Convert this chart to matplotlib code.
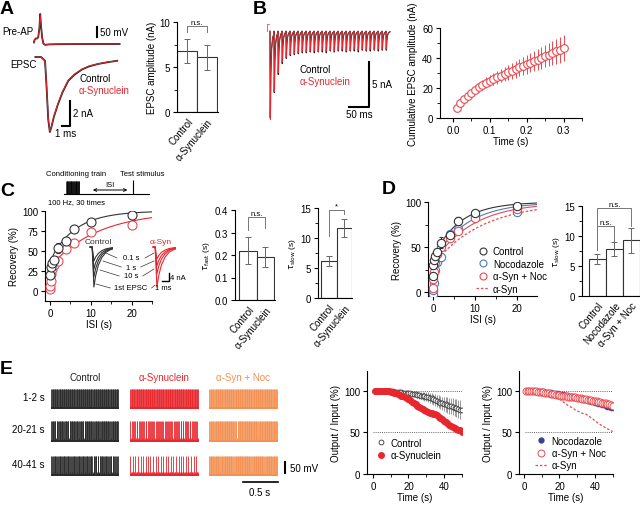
import numpy as np
import matplotlib
matplotlib.use('Agg')
import matplotlib.pyplot as plt
from matplotlib.lines import Line2D

plt.rcParams['font.family'] = ['Liberation Sans', 'DejaVu Sans']
plt.rcParams['font.size'] = 7
plt.rcParams['axes.linewidth'] = 0.8

RED = '#e8262d'
PINK = '#ea4a50'
ORANGE = '#f39154'
BLUE = '#4a7cc0'
NAVY = '#3b3f8f'
GREY = '#555555'

# ---------------- data ----------------
# A: single traces (ms, mV / nA) and amplitudes
ap_t = [0.1, 0.2, 0.35, 0.5, 0.65, 0.8, 0.9, 1.0, 1.15, 1.3, 1.5, 2.0, 3.0, 5.0, 8.0, 10.8]
ap_mv = [-62, -50, -42, -43, -36, 10, 80, 20, -40, -68, -74, -72, -71, -70.5, -70, -70]
epsc_t = [0.3, 1.0, 1.5, 1.7, 1.9, 2.1, 2.3, 2.6, 3.1, 3.7, 4.4, 5.2, 6.1, 7.0, 8.1, 9.3, 10.5]
epsc_ctrl = [0.0, 0.0, -0.3, -2.5, -5.0, -6.0, -5.6, -4.8, -3.8, -2.8, -1.9, -1.4, -1.0, -0.75, -0.56, -0.42, -0.3]
epsc_syn = [0.0, 0.0, -0.3, -2.4, -4.9, -5.95, -5.6, -4.75, -3.75, -2.75, -1.85, -1.35, -0.98, -0.72, -0.55, -0.4, -0.3]
groups2 = ['Control', 'α-Synuclein']
amp_mean = [6.8, 6.1]
amp_err = [1.3, 1.4]

# B: 100 Hz train, 30 EPSC amplitudes (nA)
train_ctrl = [9.6, 6.8, 4.8, 3.6, 3.0, 2.7, 2.6, 2.5, 2.4, 2.4, 2.3, 2.4, 2.3, 2.3, 2.4, 2.2, 2.3, 2.2, 2.2, 2.3,
              2.2, 2.2, 2.3, 2.1, 2.2, 2.2, 2.1, 2.2, 2.1, 2.1]
train_syn = [9.8, 6.7, 4.6, 3.4, 2.9, 2.6, 2.5, 2.4, 2.3, 2.3, 2.2, 2.2, 2.3, 2.1, 2.2, 2.1, 2.2, 2.1, 2.0, 2.2,
             2.1, 2.0, 2.1, 2.0, 2.1, 2.0, 2.1, 2.0, 2.0, 2.0]
epsc_kernel_t = [0, 0.8, 2, 4, 7, 9.9]
epsc_kernel_f = [0, -1, -0.5, -0.2, -0.07, -0.03]
cum_t = np.arange(1, 31) * 0.01
cum_syn = [6.5, 10, 12.5, 15, 17, 19, 20.5, 22, 23.5, 25, 26, 27.2, 28.3, 29.4, 30.5, 31.5, 32.6, 33.7, 34.8, 35.8,
           36.9, 38, 39, 40.1, 41.2, 42.2, 43.3, 44.4, 45.4, 46.5]
cum_ctrl = [6.3, 9.8, 12.3, 14.6, 16.6, 18.4, 20.0, 21.4, 22.8, 24.1, 25.3, 26.4, 27.5, 28.5, 29.5, 30.5, 31.5, 32.5,
            33.4, 34.4, 35.3, 36.2, 37.2, 38.1, 39.0, 40.0, 41.0, 42.0, 43.0, 44.5]
cum_err = [0.8, 1.2, 1.6, 2, 2.4, 2.7, 3, 3.3, 3.6, 3.9, 4.1, 4.4, 4.6, 4.9, 5.1, 5.4, 5.6, 5.8, 6.1, 6.3,
           6.5, 6.8, 7.0, 7.2, 7.5, 7.7, 7.9, 8.2, 8.4, 8.7]

# C: recovery from depression
isi_ctrl = [0.1, 0.3, 0.5, 1, 2, 4, 6, 10, 20]
rec_ctrl = [20, 30, 35, 39, 54, 62, 77, 86, 95]
rec_ctrl_err = [2, 2, 2, 2, 6, 2, 2, 2, 2]
isi_syn = [0.05, 0.1, 0.2, 0.3, 0.5, 1, 2, 4, 6, 10, 20]
rec_syn = [3, 6, 13, 21, 27, 32, 38, 53, 60, 74, 82]
# double-exponential fit parameters: A_fast, tau_fast, A_slow, tau_slow
fit_ctrl = [35, 0.22, 62, 6.2]
fit_syn = [25, 0.19, 70, 11.7]
fit_noc = [30, 0.25, 66, 7.8]
fit_synnoc = [28, 0.20, 68, 9.3]
inset_t = [0, 0.3, 0.55, 0.8, 1.2, 1.7, 2.3, 2.9, 3.4]
inset_f = [0, 0, -1.0, -0.72, -0.45, -0.26, -0.13, -0.07, -0.04]
inset_ctrl = [20, 15, 11, 7]     # 1st EPSC, 10 s, 1 s, 0.1 s (nA)
inset_syn = [20, 13.5, 9.5, 6]
taufast_mean = [0.22, 0.19]
taufast_err = [0.062, 0.045]
tauslow_mean = [6.2, 11.7]
tauslow_err = [0.8, 1.5]

# D
isi_d = [0.05, 0.1, 0.2, 0.5, 1, 2, 4, 6, 10, 20]
rec_d_ctrl = [18, 30, 36, 40, 45, 55, 63, 79, 88, 96]
rec_d_noc = [-2, 2, 10, 25, 33, 39, 64, 70, 84, 89]
rec_d_synnoc = [5, 15, 22, 33, 42, 50, 60, 68, 82, 92]
groups3 = ['Control', 'Nocodazole', 'α-Syn + Noc']
tau3_mean = [6.2, 7.8, 9.3]
tau3_err = [0.8, 1.2, 2.1]

# E: spike trains, '|' = spike, '.' = failure (100 stimuli per 1-s window)
trains = {
    ('Control', '1-2 s'): '|' * 100,
    ('Control', '20-21 s'): '|||||||.|||||||||||.||||||.||||||||||||||.||||||.||||||||||||||.||||||||.|||||||||||||||.|||||||||||',
    ('Control', '40-41 s'): '|||.|||||.|||||.||||||.||||.|||.||||||.|||||.|||||.||||.|||||.|||||.||.|||||||.|||||.||||.|||.|||.||',
    ('α-Synuclein', '1-2 s'): '|' * 100,
    ('α-Synuclein', '20-21 s'): '|.|.||.|.||.|.||.|.||.||.|.||.|.||.|.||.||.|.||.|.||.|.||.||.|.||.|.||.|.||.||.|.||.|.||.|.||.||.|.|',
    ('α-Synuclein', '40-41 s'): '|...|..|...|...|..|...|...|..|...|...|..|...|...|..|...|...|..|...|...|..|...|...|..|...|...|..|...|',
    ('α-Syn + Noc', '1-2 s'): '|' * 100,
    ('α-Syn + Noc', '20-21 s'): '|' * 40 + '.' + '|' * 29 + '.' + '|' * 29,
    ('α-Syn + Noc', '40-41 s'): '|' * 15 + '.' + '|' * 19 + '.' + '|' * 24 + '.' + '|' * 19 + '.' + '|' * 19,
}
e_cols = ['Control', 'α-Synuclein', 'α-Syn + Noc']
e_rows = ['1-2 s', '20-21 s', '40-41 s']
e_colors = ['#2a2a2a', RED, ORANGE]

time_e = np.arange(1, 51)
oi_ctrl = [100, 100, 100, 100, 100, 100, 100, 100, 100, 99.8, 99.5, 99.3, 99, 98.8, 98.5, 98.3, 98, 97.8, 97.5, 97.3,
           97, 96.5, 96.2, 95.8, 95.3, 95, 94.5, 94, 93.5, 93, 92.5, 92, 91, 90, 89, 88, 87, 86, 85, 84.5,
           84, 83, 82, 81.5, 81, 80, 79.5, 78.5, 77.5, 76.5]
oi_ctrl_err = [0, 0, 0, 0, 0, 0, 0, 0, 0.3, 0.5, 0.7, 0.9, 1.1, 1.3, 1.5, 1.7, 1.9, 2.1, 2.3, 2.5,
               2.8, 3.1, 3.4, 3.7, 4.0, 4.3, 4.6, 4.9, 5.2, 5.5, 5.8, 6.1, 6.4, 6.7, 7.0, 7.3, 7.6, 7.9, 8.2, 8.5,
               8.8, 9.1, 9.4, 9.7, 10, 10.3, 10.6, 11, 11.4, 11.8]
oi_syn = [100, 100, 100, 100, 100, 100, 100, 99.8, 99.5, 99, 98.5, 98, 97.5, 96.5, 95.5, 94.5, 93.5, 92.5, 91.5, 90,
          88.5, 87, 85.5, 84, 82, 81, 80, 78.5, 77, 76, 75, 74, 73, 72.5, 72, 70.5, 69, 67.5, 66, 64,
          62.5, 61, 59.5, 58, 57, 55.5, 54.5, 53.5, 52.5, 51]
oi_noc = [100, 100, 100, 100, 100, 100, 100, 100, 99.8, 99.6, 99.4, 99.2, 99, 98.7, 98.4, 98, 97.7, 97.3, 97, 96.6,
          96.2, 95.8, 95.4, 95, 94.5, 94, 93.5, 93, 92.5, 92, 91.4, 90.8, 90.2, 89.6, 89, 88.4, 87.8, 87.2, 86.6, 86,
          85.3, 84.6, 83.9, 83.2, 82.5, 81.8, 81.1, 80.4, 79.7, 79]
oi_synnoc = [100, 100, 100, 100, 99.8, 99.6, 99.4, 99.2, 99, 98.7, 98.4, 98, 97.6, 97.2, 96.8, 96.4, 96, 95.6, 95.2, 94.8,
             94.5, 94.2, 93.9, 93.6, 93.3, 93, 92.7, 92.4, 92.1, 91.8, 91.5, 91.2, 90.8, 90.4, 90, 89.6, 89.2, 88.8, 88.4, 88,
             87.5, 87, 86.5, 86, 85.5, 85, 84.4, 83.8, 83, 82]

# ---------------- layout helpers ----------------
W, H = 640, 506
fig = plt.figure(figsize=(W / 100, H / 100), dpi=100)


def box(x0, y0, x1, y1):
    return fig.add_axes([x0 / W, 1 - y1 / H, (x1 - x0) / W, (y1 - y0) / H])


def ftxt(x, y, s, **kw):
    kw.setdefault('va', 'center')
    fig.text(x / W, 1 - y / H, s, **kw)


def style(ax):
    for s in ['top', 'right']:
        ax.spines[s].set_visible(False)
    ax.tick_params(direction='out', length=3, width=0.8, labelsize=7, pad=2)
    ax.tick_params(which='minor', direction='out', length=2, width=0.6)


def bars(ax, means, errs, labels, ylim, yticks, ylabel, xlim):
    x = np.arange(len(means))
    ax.bar(x, means, width=1, color='white', edgecolor='#333333', lw=0.8, zorder=2)
    ax.errorbar(x, means, yerr=errs, fmt='none', ecolor='#666666', elinewidth=0.7, capsize=2, capthick=0.7, zorder=3)
    ax.set_xlim(*xlim)
    ax.set_ylim(*ylim)
    ax.set_yticks(yticks)
    ax.set_xticks(x)
    ax.set_xticklabels(labels, rotation=50, ha='right', rotation_mode='anchor')
    style(ax)
    ax.tick_params(axis='x', length=0, pad=3)
    ax.set_ylabel(ylabel, labelpad=2)


def bracket(ax, x0, x1, ytop, yl, yr, label):
    ax.plot([x0, x0, x1, x1], [yl, ytop, ytop, yr], color='#777777', lw=0.7, clip_on=False)
    ax.text((x0 + x1) / 2, ytop, label, ha='center', va='bottom', fontsize=5.5)


def recovery(p, t):
    return 100 - p[0] * np.exp(-t / p[1]) - p[2] * np.exp(-t / p[3])


def train(stims, amps):
    tt, yy = [], []
    for s, a in zip(stims, amps):
        tt += [s + k for k in epsc_kernel_t]
        yy += [a * f for f in epsc_kernel_f]
    return tt, yy


# ---------------- panel letters ----------------
for lab, x, y in [('A', 0, 10), ('B', 253, 10), ('C', 0, 191), ('D', 382, 190), ('E', 0, 370)]:
    ftxt(x, y, lab, fontsize=14, fontweight='bold', ha='left')

# ---------------- A ----------------
ax = box(33, 8, 122, 48)
ax.plot(ap_t, ap_mv, color='#222222', lw=1.3)
ax.plot(ap_t, ap_mv, color=RED, lw=0.6)
ax.plot([8, 8], [-35, 15], color='k', lw=1.5)
ax.set_xlim(0, 11.1)
ax.set_ylim(-85, 115)
ax.axis('off')
ftxt(100, 33, '50 mV', ha='left')
ftxt(2, 32, 'Pre-AP', ha='left')

ax = box(33, 50, 122, 140)
ax.plot(epsc_t, epsc_ctrl, color='#222222', lw=1.3)
ax.plot(epsc_t, epsc_syn, color=RED, lw=0.7)
ax.plot([3.6, 4.6, 4.6], [-5.52, -5.52, -3.52], color='k', lw=1.5, clip_on=False)
ax.set_xlim(0, 11.1)
ax.set_ylim(-6.56, 0.64)
ax.axis('off')
ftxt(10, 65, 'EPSC', ha='left')
ftxt(79, 79, 'Control', ha='left')
ftxt(79, 91, 'α-Synuclein', ha='left', color=RED)
ftxt(73, 114, '2 nA', ha='left')
ftxt(66, 134, '1 ms', ha='center')

ax = box(177, 23, 218, 113)
bars(ax, amp_mean, amp_err, groups2, (0, 10), [0, 5, 10], 'EPSC amplitude (nA)', (-0.5, 1.55))
ax.set_yticks([2.5, 7.5], minor=True)
bracket(ax, 0, 1, 9.55, 8.9, 8.9, 'n.s.')

# ---------------- B ----------------
ax = box(266, 25, 400, 125)
stims = [10 + 10 * i for i in range(len(train_syn))]
tc, yc = train(stims, train_ctrl)
ts, ys = train(stims, train_syn)
ax.plot(tc, yc, color='#222222', lw=0.9)
ax.plot(ts, ys, color=RED, lw=0.6)
ax.plot([3, 3, 8], [0, 0.8, 0.8], color=PINK, lw=0.6)
ax.plot([207.5, 257.5, 257.5], [-8.44, -8.44, -3.44], color='k', lw=1.5)
ax.set_xlim(0, 335)
ax.set_ylim(-10.3, 0.8)
ax.axis('off')
ftxt(300, 70, 'Control', ha='left')
ftxt(300, 82, 'α-Synuclein', ha='left', color=RED)
ftxt(372, 85, '5 nA', ha='left')
ftxt(359, 115, '50 ms', ha='center')

ax = box(440, 29, 582, 119)
ax.plot(cum_t, cum_ctrl, color='#222222', lw=1.0, zorder=2)
ax.errorbar(cum_t, cum_syn, yerr=cum_err, fmt='o', ms=5.5, mfc='white', mec=PINK, mew=0.8,
            ecolor=PINK, elinewidth=0.7, capsize=0, zorder=3)
ax.set_xlim(-0.035, 0.349)
ax.set_ylim(0, 60)
ax.set_xticks([0, 0.1, 0.2, 0.3])
ax.set_xticklabels(['0.0', '0.1', '0.2', '0.3'])
ax.set_xticks([0.05, 0.15, 0.25, 0.35], minor=True)
ax.set_yticks([0, 20, 40, 60])
ax.set_yticks([10, 30, 50], minor=True)
style(ax)
ax.set_xlabel('Time (s)', labelpad=1)
ax.set_ylabel('Cumulative EPSC amplitude (nA)', labelpad=3)

# ---------------- C ----------------
# protocol schematic
ax = box(62, 178, 150, 198)
cond_train = [40 + 10 * i for i in range(30)]
ax.vlines(cond_train, 0, 0.75, color='k', lw=0.5)
ax.plot([0, 1900], [0, 0], color='k', lw=0.8)
ax.vlines([1528], 0, 0.85, color='k', lw=0.8)
ax.annotate('', xy=(572, 0.22), xytext=(1461, 0.22),
            arrowprops=dict(arrowstyle='<->', lw=0.7, mutation_scale=5))
ax.text(1010, 0.52, 'ISI', ha='center', va='center', fontsize=5.5)
ax.set_xlim(-50, 1900)
ax.set_ylim(-0.2, 1.0)
ax.axis('off')
ftxt(76, 174, 'Conditioning train', ha='center', fontsize=5.5)
ftxt(142, 174, 'Test stimulus', ha='center', fontsize=5.5)
ftxt(77, 203, '100 Hz, 30 times', ha='center', fontsize=5.5)

ax = box(45, 212, 152, 302)
tt = np.linspace(0, 25, 300)
ax.plot(tt, recovery(fit_ctrl, tt), color='#333333', lw=0.8)
ax.plot(tt, recovery(fit_syn, tt), color=RED, lw=0.8)
ax.errorbar(isi_ctrl, rec_ctrl, yerr=rec_ctrl_err, fmt='o', ms=6.5, mfc='white', mec='#333333', mew=0.8,
            ecolor='#333333', elinewidth=0.7, capsize=1.5, zorder=3)
ax.plot(isi_syn, rec_syn, 'o', ms=6.5, mfc='white', mec=PINK, mew=0.8, zorder=3)
ax.set_xlim(-1.2, 25)
ax.set_ylim(-12.5, 100)
ax.set_xticks([0, 10, 20])
ax.set_xticks([5, 15, 25], minor=True)
ax.set_yticks([0, 25, 50, 75, 100])
style(ax)
ax.set_xlabel('ISI (s)', labelpad=1)
ax.set_ylabel('Recovery (%)', labelpad=2)

# insets
for x0, amps, col, lab in [(88, inset_ctrl, '#333333', 'Control'), (151, inset_syn, RED, 'α-Syn')]:
    ai = box(x0, 244, x0 + 25, 294)
    for a in amps:
        ai.plot(inset_t, [a * f for f in inset_f], color=col, lw=0.8)
    ai.set_xlim(-0.3, 3.3)
    ai.set_ylim(-23, 2)
    ai.axis('off')
    ftxt(x0 + 10, 242, lab, ha='center', fontsize=6, color=col)
    if lab == 'α-Syn':
        ai.plot([1.3, 2.3, 2.3], [-17, -17, -13], color='k', lw=1.0)
ftxt(170, 278, '4 nA', ha='left', fontsize=5.5)
ftxt(163, 288, '1 ms', ha='center', fontsize=5.5)

ov = fig.add_axes([0, 0, 1, 1], zorder=10)
ov.set_xlim(0, W)
ov.set_ylim(H, 0)
ov.axis('off')
for lab, y, xl, xr, yl, yr in [('0.1 s', 259, 106, 154, 254, 254), ('1 s', 268, 103, 154, 262, 262),
                               ('10 s', 277, 100, 154, 271, 270), ('1st EPSC', 289, 96, 155, 285, 286)]:
    ov.text(131, y, lab, ha='center', va='center', fontsize=5.5)
    wdt = len(lab) * 2.2 + 3
    ov.plot([xl, 131 - wdt], [yl, y], color='#333333', lw=0.5)
    ov.plot([131 + wdt, xr], [y, yr], color='#333333', lw=0.5)

ax = box(235, 211, 275, 301)
bars(ax, taufast_mean, taufast_err, groups2, (0, 0.4), [0, 0.1, 0.2, 0.3, 0.4], r'$\tau_{\rm fast}$ (s)', (-0.75, 1.55))
ax.set_yticklabels(['0.0', '0.1', '0.2', '0.3', '0.4'])
ax.yaxis.label.set_size(6)
bracket(ax, 0, 1, 0.37, 0.31, 0.32, 'n.s.')

ax = box(318, 209, 352, 299)
bars(ax, tauslow_mean, tauslow_err, groups2, (0, 15), [0, 5, 10, 15], r'$\tau_{\rm slow}$ (s)', (-0.7, 1.5))
ax.set_yticks([2.5, 7.5, 12.5], minor=True)
ax.yaxis.label.set_size(6)
bracket(ax, 0, 1, 14.7, 10.3, 14.0, '*')

# ---------------- D ----------------
ax = box(428, 203, 537, 297)
ax.plot(tt, recovery(fit_ctrl, tt), color='#333333', lw=0.8)
ax.plot(tt, recovery(fit_noc, tt), color=BLUE, lw=0.8)
ax.plot(tt, recovery(fit_synnoc, tt), color=PINK, lw=0.8)
ax.plot(tt, recovery(fit_syn, tt), color=PINK, lw=0.9, ls=(0, (2, 1.5)))
ax.plot(isi_d, rec_d_noc, 'o', ms=6, mfc='white', mec=BLUE, mew=0.8, zorder=3)
ax.plot(isi_d, rec_d_synnoc, 'o', ms=6, mfc='white', mec=PINK, mew=0.8, zorder=3)
ax.errorbar(isi_d, rec_d_ctrl, yerr=[2, 2, 2, 2, 2, 6, 2, 4, 2, 2], fmt='o', ms=6, mfc='white', mec='#333333',
            mew=0.8, ecolor='#333333', elinewidth=0.7, capsize=1.5, zorder=4)
ax.set_xlim(-1.2, 24.8)
ax.set_ylim(-4.4, 100)
ax.set_xticks([0, 10, 20])
ax.set_xticks([5, 15], minor=True)
ax.set_yticks([0, 50, 100])
ax.set_yticks([25, 75], minor=True)
style(ax)
ax.set_xlabel('ISI (s)', labelpad=1)
ax.set_ylabel('Recovery (%)', labelpad=2)
handles = [Line2D([], [], marker='o', ls='none', ms=5, mfc='white', mec='#333333', mew=0.8),
           Line2D([], [], marker='o', ls='none', ms=5, mfc='white', mec=BLUE, mew=0.8),
           Line2D([], [], marker='o', ls='none', ms=5, mfc='white', mec=PINK, mew=0.8),
           Line2D([], [], color=PINK, lw=0.9, ls=(0, (2, 1.5)))]
ax.legend(handles, ['Control', 'Nocodazole', 'α-Syn + Noc', 'α-Syn'], loc='upper left',
          bbox_to_anchor=(0.40, 0.58), frameon=False, fontsize=7, handlelength=1.3, handletextpad=0.4,
          labelspacing=0.25, borderpad=0)

ax = box(582, 207, 640, 297)
bars(ax, tau3_mean, tau3_err, groups3, (0, 15), [0, 5, 10, 15], r'$\tau_{\rm slow}$ (s)', (-0.9, 2.5))
ax.set_yticks([2.5, 7.5, 12.5], minor=True)
ax.yaxis.label.set_size(6)
bracket(ax, 0, 1, 11.7, 7.6, 9.2, 'n.s.')
bracket(ax, 0, 2, 14.7, 8.0, 11.6, 'n.s.')

# ---------------- E ----------------
col_x = [(51, 119), (130, 199), (209, 278)]
row_y = [(390, 410), (422, 443), (457, 477)]
for ci, (cname, ccol) in enumerate(zip(e_cols, e_colors)):
    ftxt((col_x[ci][0] + col_x[ci][1]) / 2, 378, cname, ha='center',
         color=ccol if ci else '#222222')
    for ri, rname in enumerate(e_rows):
        ae = box(col_x[ci][0], row_y[ri][0], col_x[ci][1], row_y[ri][1])
        pat = trains[(cname, rname)]
        spk = [5 + 10 * i for i, c in enumerate(pat) if c == '|']
        fail = [5 + 10 * i for i, c in enumerate(pat) if c == '.']
        ae.vlines(spk, -72, 22, color=ccol, lw=0.62)
        ae.vlines(fail, -72, -58, color=ccol, lw=0.62)
        ae.plot([0, 1000], [-70, -70], color=ccol, lw=1.4)
        ae.set_xlim(0, 1000)
        ae.set_ylim(-75, 20)
        ae.axis('off')
        if ci == 0:
            ftxt(45, (row_y[ri][0] + row_y[ri][1]) / 2 - 2, rname, ha='right')
        if ci == 2 and ri == 2:
            ae.plot([1100, 1100], [-10, -60], color='k', lw=1.5, clip_on=False)
            ae.plot([493, 1000], [-103, -103], color='k', lw=1.2, clip_on=False)
ftxt(290, 469, '50 mV', ha='left')
ftxt(260, 493, '0.5 s', ha='center')


def oi_axes(x0, x1):
    a = box(x0, 372, x1, 475)
    a.axhline(100, color='#666666', lw=0.7, ls=(0, (1, 1.2)), xmin=0.06, zorder=1)
    a.axhline(50, color='#666666', lw=0.7, ls=(0, (1, 1.2)), xmin=0.06, zorder=1)
    a.set_ylim(0, 124)
    a.set_yticks([0, 50, 100])
    a.set_xticks([0, 20, 40])
    a.set_xticks([10, 30, 50], minor=True)
    style(a)
    a.set_xlabel('Time (s)', labelpad=1)
    a.set_ylabel('Output / Input (%)', labelpad=2)
    return a


ax = oi_axes(367, 462)
ax.errorbar(time_e, oi_ctrl, yerr=oi_ctrl_err, fmt='o', ms=3.5, mfc='white', mec='#333333', mew=0.6,
            ecolor='#888888', elinewidth=0.6, capsize=0, zorder=2)
ax.errorbar(time_e, oi_syn, yerr=1.5, fmt='o', ms=4.5, mfc=RED, mec=RED, mew=0.5,
            ecolor=RED, elinewidth=0.6, capsize=0, zorder=3)
ax.set_xlim(-3.4, 50.2)
ax.legend([Line2D([], [], marker='o', ls='none', ms=3.5, mfc='white', mec='#333333', mew=0.6),
           Line2D([], [], marker='o', ls='none', ms=4, mfc=RED, mec=RED)],
          ['Control', 'α-Synuclein'], loc='upper left', bbox_to_anchor=(0.05, 0.40), frameon=False,
          fontsize=7, handlelength=1.0, handletextpad=0.4, labelspacing=0.25, borderpad=0)

ax = oi_axes(519, 613)
ax.plot(time_e, oi_syn, color=PINK, lw=0.9, ls=(0, (2, 1.5)), zorder=1)
ax.errorbar(time_e, oi_noc, yerr=2.5, fmt='o', ms=3.5, mfc=NAVY, mec=NAVY, mew=0.5,
            ecolor='#8a7fc8', elinewidth=0.6, capsize=0, zorder=2)
ax.errorbar(time_e, oi_synnoc, yerr=3.0, fmt='o', ms=5, mfc='white', mec=PINK, mew=0.7,
            ecolor=PINK, elinewidth=0.6, capsize=0, zorder=3)
ax.set_xlim(-2.8, 50.2)
ax.legend([Line2D([], [], marker='o', ls='none', ms=3.5, mfc=NAVY, mec=NAVY),
           Line2D([], [], marker='o', ls='none', ms=5, mfc='white', mec=PINK, mew=0.7),
           Line2D([], [], color=PINK, lw=0.9, ls=(0, (2, 1.5)))],
          ['Nocodazole', 'α-Syn + Noc', 'α-Syn'], loc='upper left', bbox_to_anchor=(0.12, 0.42),
          frameon=False, fontsize=7, handlelength=1.3, handletextpad=0.4, labelspacing=0.25, borderpad=0)

fig.savefig('out.png', dpi=100)
